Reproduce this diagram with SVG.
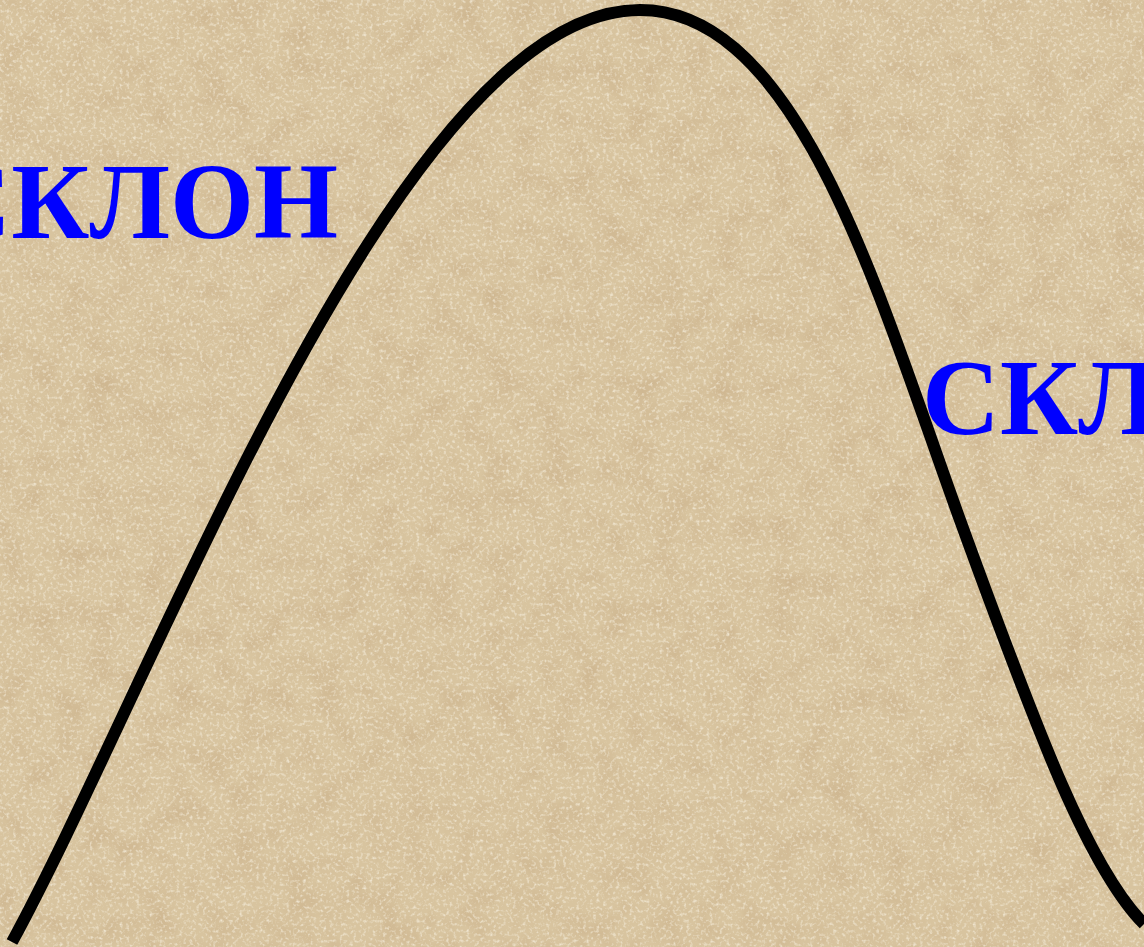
<svg xmlns="http://www.w3.org/2000/svg" width="1144" height="947" viewBox="0 0 1144 947">
  <defs>
    <filter id="tex" x="0" y="0" width="100%" height="100%" filterUnits="userSpaceOnUse">
      <feTurbulence type="fractalNoise" baseFrequency="0.035" numOctaves="4" seed="7" result="n"/>
      <feColorMatrix in="n" type="matrix" values="0 0 0 0 0.62  0 0 0 0 0.47  0 0 0 0 0.28  2.0 0 0 0 -0.85"/>
    </filter>
    <filter id="speck" x="0" y="0" width="100%" height="100%" filterUnits="userSpaceOnUse">
      <feTurbulence type="fractalNoise" baseFrequency="0.3" numOctaves="2" seed="2" result="n"/>
      <feColorMatrix in="n" type="matrix" values="0 0 0 0 0.95  0 0 0 0 0.90  0 0 0 0 0.78  0 1.8 0 0 -0.9"/>
    </filter>
  </defs>
  <style>
    .lbl { font-family: "Liberation Serif", "Times New Roman", serif; font-weight: bold; font-size: 108px; fill: #0000ff; }
    .curve { fill: none; stroke: #000; stroke-width: 12; stroke-linecap: butt; }
  </style>
  <rect width="1144" height="947" fill="#d8c49f"/>
  <rect width="1144" height="947" filter="url(#tex)"/>
  <rect width="1144" height="947" filter="url(#speck)"/>
  <g id="connectors">
    <path class="curve" d="M12,942 C160,670 400,10 640,10 C800,10 880,300 960,520 C1040,740 1090,870 1144,924"/>
  </g>
  <g id="label-left">
    <text class="lbl" x="338" y="238" text-anchor="end">СКЛОН</text>
  </g>
  <g id="label-right">
    <text class="lbl" x="922" y="434">СКЛОН</text>
  </g>
</svg>
